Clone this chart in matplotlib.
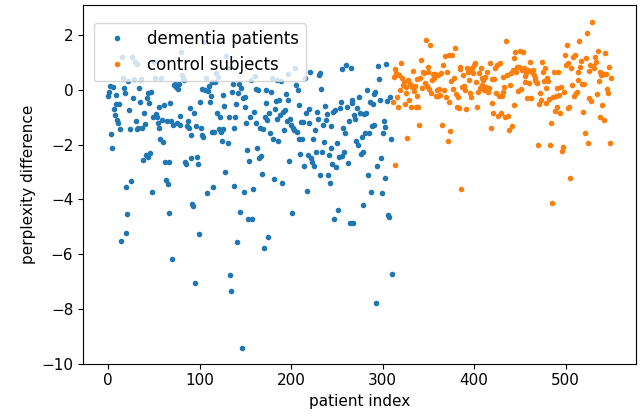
import matplotlib
matplotlib.use('Agg')
import matplotlib.pyplot as plt
import numpy as np

# perplexity difference per patient
dementia = [
    -0.2, -0.07, 0.15, -1.6, -2.1, 0.12, -0.7, -0.9, -0.5, -0.18,
    -1.1, -1.2, -0.5, -1.42, -5.52, 1.2, 0.43, 0.06, -0.1, -5.22,
    -3.56, -4.52, 0.34, -0.73, -1.44, -3.32, 1.22, -0.3, 0.39, 1.04,
    -1.13, 0.95, -1.42, -1.38, 0.06, -0.43, 0.39, -1.4, -2.56, -0.85,
    -1.24, -2.38, -0.3, -0.12, -2.44, -0.49, -2.29, -0.06, -3.72, -1.0,
    1.04, 0.46, -0.88, -1.0, -1.2, -1.4, -0.6, -1.8, 0.46, -1.1,
    -1.9, -0.55, -2.62, -3.3, -1.13, -3.44, -2.62, -4.51, -0.49, -1.13,
    -6.18, -1.28, 0.18, 0.24, 0.12, -1.22, 0.04, 0.24, -1.28, -0.94,
    1.4, 0.55, 0.43, 0.37, -2.62, -2.71, -1.3, -1.13, -1.37, -0.67,
    -1.65, -2.48, -4.18, -4.24, -0.85, -7.04, -1.32, -2.44, -2.71, -5.28,
    -0.45, -1.37, 0.04, -1.65, -1.71, 1.75, 0.0, 0.45, -3.78, -0.03,
    0.16, -0.45, -0.22, -1.52, 0.3, -3.56, -1.52, 0.3, 0.61, -0.85,
    0.49, -1.43, -0.98, -1.52, -1.87, -1.43, -0.18, -0.57, -2.99, 1.24,
    0.79, -1.95, -0.98, -6.77, -7.35, -0.06, 0.21, -1.4, -3.5, -1.0,
    -0.5, -5.57, -0.12, 0.21, -4.45, 0.08, -9.43, -0.3, -3.72, -0.25,
    -0.6, -1.22, -2.2, -4.7, -2.59, -1.0, 0.37, -4.73, -3.62, -0.8,
    0.52, -1.2, 0.03, -2.11, 0.0, -2.5, -1.4, -2.4, -3.05, -1.44,
    -5.79, -0.98, -0.49, 0.0, -1.1, -5.37, -0.82, -1.58, -0.06, 0.43,
    -1.77, -3.26, -0.7, -0.4, 0.37, -1.07, -1.87, -0.37, -0.91, 0.33,
    -3.41, -0.79, -1.46, -0.71, -0.15, -1.13, -0.37, 0.59, -2.6, -1.07,
    -1.26, -4.49, -1.4, -1.46, 0.82, 0.18, -1.52, 0.0, -1.77, -0.55,
    -2.35, -1.16, -1.77, -1.18, -2.77, 0.45, -0.85, -3.7, -2.38, -0.7,
    -1.22, 0.65, -2.5, -2.62, -1.77, -2.77, -1.46, -2.28, -0.79, -1.04,
    0.57, 0.61, -3.11, 0.03, -2.26, -1.28, -1.91, -0.57, -1.1, -0.89,
    -3.11, -2.38, -3.39, -2.11, -1.3, -2.72, -0.79, -4.7, -0.73, -2.8,
    -1.95, -4.39, -2.44, -0.65, -0.45, -2.41, 0.76, -1.4, -2.26, -1.58,
    0.91, -0.61, -2.68, -1.13, -4.86, 0.82, -0.49, -0.37, -4.86, -0.9,
    -1.07, -1.87, -0.67, -1.99, -0.27, -0.85, -2.35, -1.71, -2.26, -4.21,
    -0.89, -1.58, -0.83, 0.0, -3.09, -1.58, -0.45, -3.72, -1.32, -0.52,
    -1.28, -0.14, -0.08, -7.77, -2.77, 0.88, 0.4, -0.37, -2.5, -3.78,
    -1.58, -1.13, -1.34, -3.21, 0.94, -0.4, -4.57, -4.64, -0.25, -1.79,
    -6.72,
]

control = [
    -0.43, 0.49, 0.76, -2.74, 0.61, -0.27, -0.61, 0.55, 0.0, 1.0,
    0.43, 0.18, 0.3, -0.52, -0.1, 0.12, -1.74, 0.37, -0.37, 0.22,
    -0.63, 0.12, 0.7, -0.03, 0.15, -0.63, -0.22, 0.39, -0.61, -1.28,
    0.43, 1.1, 0.06, 0.67, 0.64, 0.27, 1.83, 0.15, 0.85, 0.67,
    0.03, 1.65, -0.1, 0.37, 0.59, 0.45, 0.59, -0.22, 0.0, 0.55, -0.22,
    0.03, -0.18, 0.61, -1.28, 0.91, 0.0, 1.24, -0.27, 0.67, -1.85,
    -0.43, 1.28, -1.49, 0.33, 1.28, 0.03, 0.43, 1.55, -0.15, -0.61,
    -0.25, -0.67, 0.76, 0.85, -3.63, 0.12, 0.55, 0.15, 0.0, -0.68,
    0.79, 0.67, 0.37, -0.1, 0.7, -0.27, 0.79, 0.61, 0.91, 1.0,
    0.3, -0.63, -0.06, 0.61, 0.06, 0.79, 0.43, 0.2, 0.37, 0.0, 0.49,
    0.12, 0.67, -0.06, 0.06, 1.0, -1.4, 0.39, -0.46, -0.83, 0.39,
    0.79, -0.12, 0.91, -0.95, -0.22, 0.98, -0.83, -0.22, -0.06, 0.49,
    0.1, -1.0, 1.79, 0.55, -0.95, -1.46, 0.18, 0.61, -1.32, 0.73,
    1.16, -0.55, 1.4, 0.67, 0.85, -0.03, 0.85, 1.43, 0.03, 0.73,
    1.4, 0.79, 0.3, 0.5, 0.61, -0.3, 0.73, 0.27, 1.04, -0.3, 0.67,
    0.73, 0.55, 0.43, 0.37, 0.3, 0.27, -2.01, -0.51, -0.12, -0.37,
    1.01, 0.67, 0.34, 0.79, 0.06, -0.46, 0.43, 0.34, -0.33, -2.01,
    -1.2, -4.12, -0.27, 0.65, -0.77, -0.22, 0.06, -0.63, 0.67, -0.18,
    -0.85, 0.1, -2.22, -2.07, -0.08, 1.28, 0.91, 1.66, -0.67, 0.98,
    -0.61, -3.23, 0.79, 0.17, 1.22, -0.22, 1.28, -0.12, -0.06, 0.37,
    0.67, 1.8, 0.83, 1.07, 0.24, -0.79, 0.22, -1.58, 1.18, 2.07,
    -1.95, 0.7, -0.3, 0.9, -0.39, 2.5, 0.88, 0.79, 1.22, 1.04, -0.15,
    1.43, 0.34, 0.67, -0.98, 0.55, -0.55, 0.6, -1.1, 1.34, 0.58, 0.03,
    -0.12, 0.85, -1.93, 0.46,
]

plt.rcParams['font.size'] = 11

fig = plt.figure(figsize=(6.44, 4.16), dpi=100)
ax = fig.add_axes([0.129, 0.126, 0.858, 0.861])

idx_d = np.arange(len(dementia))
idx_c = np.arange(len(dementia), len(dementia) + len(control))

ax.plot(idx_d, dementia, '.', color='#1f77b4', markersize=6, label='dementia patients')
ax.plot(idx_c, control, '.', color='#ff7f0e', markersize=6, label='control subjects')

ax.set_ylim(bottom=-10)
ax.set_xlabel('patient index')
ax.set_ylabel('perplexity difference')
# legend sits a bit lower than the default upper-left spot
ax.legend(loc='upper left', bbox_to_anchor=(0.02, 0.95), borderaxespad=0,
          fontsize=12)

fig.savefig('out.png', dpi=100)
